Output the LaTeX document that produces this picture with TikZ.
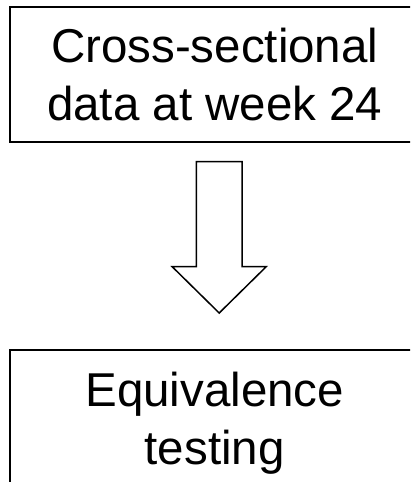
\documentclass[tikz,border=0pt]{standalone}
\usepackage{fontspec}
\setmainfont{Liberation Sans}
\begin{document}
\begin{tikzpicture}[x=1pt,y=-1pt,
  box/.style={draw=black, line width=2pt, fill=white, align=center,
    font=\fontsize{47.5}{58}\selectfont, inner sep=0pt},
  blockarrow/.style={draw=black, line width=1.5pt, fill=white, line join=miter}]
  \useasboundingbox (0,0) rectangle (410,482);
  \clip (0,0) rectangle (410,482);
  % step boxes
  \node[box, minimum width=410.5pt, minimum height=135.5pt] (data)
    at (214.75,74.25) {Cross-sectional\\data at week 24};
  \node[box, minimum width=410.5pt, minimum height=146pt] (test)
    at (214.75,423) {Equivalence\\testing};
  % block arrow between the boxes
  \coordinate (c) at (219.2,0);
  \draw[blockarrow]
    ([xshift=-22.9pt]c |- 0,161.7) -- ([xshift=22.9pt]c |- 0,161.7)
    -- ([xshift=22.9pt]c |- 0,266.7) -- ([xshift=47pt]c |- 0,266.7)
    -- (c |- 0,313) -- ([xshift=-47pt]c |- 0,266.7)
    -- ([xshift=-22.9pt]c |- 0,266.7) -- cycle;
\end{tikzpicture}
\end{document}
